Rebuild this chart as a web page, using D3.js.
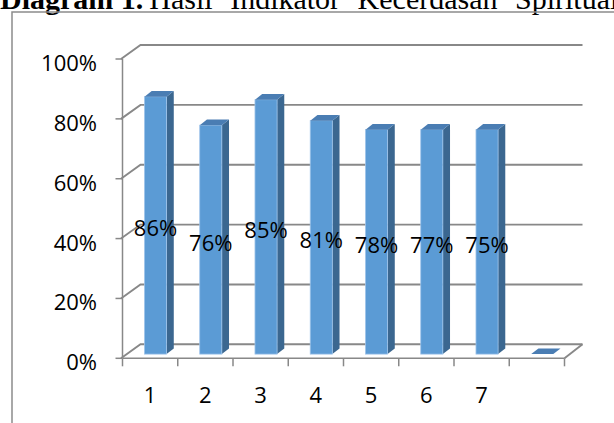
<!DOCTYPE html>
<html>
<head>
<meta charset="utf-8">
<script src="https://cdn.jsdelivr.net/npm/d3@7"></script>
<style>
  html, body { margin: 0; padding: 0; background: #fff; overflow: hidden; }
  svg { display: block; }
</style>
</head>
<body>
<div id="chart"></div>
<script>
const categories = ["1", "2", "3", "4", "5", "6", "7", ""];
const values = [0.86, 0.765, 0.85, 0.78, 0.75, 0.75, 0.75, 0];
const barLabels = ["86%", "76%", "85%", "81%", "78%", "77%", "75%", ""];
const yTicks = [0, 0.2, 0.4, 0.6, 0.8, 1.0];

const W = 614, H = 423;
const DX = 18, DY = -14;          // depth of the 3D box
const F0 = 0.3, F1 = 0.7;         // bar depth range inside the box

const svg = d3.select("#chart").append("svg")
    .attr("width", W)
    .attr("height", H);

const x = d3.scaleBand()
    .domain(d3.range(categories.length))
    .range([122.5, 564.5]);

const y = d3.scaleLinear()
    .domain([0, 1])
    .range([358.3, 59]);

const gridColor = "#888";

// title (cut off at the top, as in the source)
const title = svg.append("text")
    .attr("x", 0)
    .attr("y", 9)
    .style("font-family", "'Liberation Serif', 'Times New Roman', serif")
    .style("font-size", "30px")
    .attr("fill", "#000");
title.append("tspan").style("font-weight", "bold").text("Diagram 1.");
title.append("tspan").attr("dx", 6)
    .style("word-spacing", "10px")
    .text("Hasil Indikator Kecerdasan Spiritual");

// outer frame
svg.append("path")
    .attr("d", `M12,${H} L12,12 L${W},12`)
    .attr("fill", "none")
    .attr("stroke", "#8c8c8c")
    .attr("stroke-width", 1.5);

const x0 = x.range()[0], x1 = x.range()[1];
const bw = x.bandwidth();

// back wall gridlines with slanted connectors
const grid = svg.append("g")
    .attr("fill", "none")
    .attr("stroke", gridColor)
    .attr("stroke-width", 1.9);

grid.selectAll("path")
    .data(yTicks)
    .join("path")
    .attr("d", d => `M${x0 - 1.5},${y(d)} L${x0 + DX},${y(d) + DY} L${x1 + DX},${y(d) + DY}`);

// floor, right side
grid.append("path")
    .attr("d", `M${x1},${y(0)} L${x1 + DX},${y(0) + DY}`);

// front axes
const axis = svg.append("g")
    .attr("fill", "none")
    .attr("stroke", gridColor)
    .attr("stroke-width", 1.5);

axis.append("line")
    .attr("x1", x0).attr("x2", x0)
    .attr("y1", y(1)).attr("y2", y(0));
axis.append("line")
    .attr("x1", x0).attr("x2", x1)
    .attr("y1", y(0)).attr("y2", y(0));

axis.selectAll("line.yt")
    .data(yTicks)
    .join("line")
    .attr("class", "yt")
    .attr("x1", x0 - 7).attr("x2", x0)
    .attr("y1", d => y(d)).attr("y2", d => y(d));

axis.selectAll("line.xt")
    .data(d3.range(categories.length + 1))
    .join("line")
    .attr("class", "xt")
    .attr("x1", i => x0 + i * bw)
    .attr("x2", i => x0 + i * bw)
    .attr("y1", y(0)).attr("y2", y(0) + 8);

// bar geometry: front face sits F0 into the box depth
function face(d, i) {
    const left = x(i) + F0 * bw + F0 * DX;
    const right = left + (F1 - F0) * bw;
    const top = y(d) + F0 * DY;
    const bot = y(0) + F0 * DY;
    const ddx = (F1 - F0) * DX, ddy = (F1 - F0) * DY;
    return { left, right, top, bot, ddx, ddy };
}

svg.append("g")
    .selectAll("g")
    .data(values)
    .join("g")
    .each(function (d, i) {
        const g = d3.select(this);
        const f = face(d, i);
        if (d > 0) {
            g.append("path")
                .attr("d", `M${f.right},${f.top} L${f.right + f.ddx},${f.top + f.ddy} L${f.right + f.ddx},${f.bot + f.ddy} L${f.right},${f.bot} Z`)
                .attr("fill", "#3b6790");
            g.append("rect")
                .attr("x", f.left)
                .attr("y", f.top)
                .attr("width", f.right - f.left)
                .attr("height", f.bot - f.top)
                .attr("fill", "#5b9bd5")
                .attr("stroke", "#9fc4ea")
                .attr("stroke-width", 0.8);
        }
        g.append("path")
            .attr("d", `M${f.left},${f.top} L${f.left + f.ddx},${f.top + f.ddy} L${f.right + f.ddx},${f.top + f.ddy} L${f.right},${f.top} Z`)
            .attr("fill", "#4a7db3");
    });

const labelFont = "'Open Sans', 'Liberation Sans', sans-serif";

// data labels, centred on the front face
svg.append("g")
    .selectAll("text")
    .data(values)
    .join("text")
    .attr("x", (d, i) => { const f = face(d, i); return (f.left + f.right) / 2; })
    .attr("y", (d, i) => { const f = face(d, i); return (f.top + f.bot) / 2 + 2; })
    .attr("text-anchor", "middle")
    .attr("dominant-baseline", "central")
    .style("font-family", labelFont)
    .style("font-size", "22px")
    .attr("fill", "#000")
    .text((d, i) => barLabels[i]);

// y tick labels
svg.append("g")
    .selectAll("text")
    .data(yTicks)
    .join("text")
    .attr("x", 97)
    .attr("y", d => y(d) + 3)
    .attr("text-anchor", "end")
    .attr("dominant-baseline", "central")
    .style("font-family", labelFont)
    .style("font-size", "22px")
    .attr("fill", "#000")
    .text(d3.format(".0%"));

// x tick labels
svg.append("g")
    .selectAll("text")
    .data(categories)
    .join("text")
    .attr("x", (d, i) => x(i) + bw / 2)
    .attr("y", 394)
    .attr("text-anchor", "middle")
    .attr("dominant-baseline", "central")
    .style("font-family", labelFont)
    .style("font-size", "22px")
    .attr("fill", "#000")
    .text(d => d);
</script>
</body>
</html>
